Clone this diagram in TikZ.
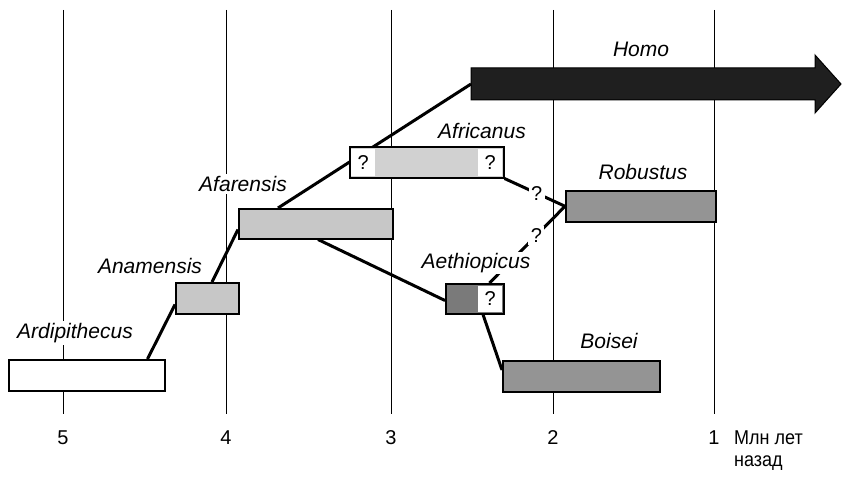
\documentclass[tikz,border=0pt]{standalone}
\usepackage{fontspec}
\setmainfont{Liberation Sans}
\newfontfamily\narrowfont[FakeStretch=0.9]{Liberation Sans}
\usetikzlibrary{calc}
\definecolor{lightfill}{gray}{0.78}
\definecolor{afrifill}{gray}{0.82}
\definecolor{darkfill}{gray}{0.58}
\definecolor{aethfill}{gray}{0.48}
\definecolor{homofill}{gray}{0.12}
\begin{document}
\begin{tikzpicture}[x=1pt,y=-1pt,
  gridline/.style={line width=1pt},
  conn/.style={line width=3pt},
  box/.style={draw, line width=1.5pt, anchor=north west, inner sep=0pt},
  lbl/.style={font=\fontsize{21}{24}\selectfont\itshape, fill=white, inner sep=2pt},
  qm/.style={font=\fontsize{20}{24}\selectfont, fill=white, inner sep=2.5pt},
  qpatch/.style={fill=white, inner sep=0pt, minimum width=24pt, minimum height=27pt, font=\fontsize{20}{24}\selectfont},
  axis/.style={font=\fontsize{20}{23}\selectfont, inner sep=0pt}]
\useasboundingbox (0,0) rectangle (842,476);

% time grid
\foreach \x/\n in {63/5,226/4,391/3,553/2,714/1} {
  \draw[gridline] (\x,10) -- (\x,414);
  \node[axis, anchor=base] (t\n) at (\x,444) {\n};
}
\node[axis, anchor=base west, font=\fontsize{20}{23}\selectfont\narrowfont] (unitA) at (734,444) {Млн лет};
\node[axis, anchor=base west, font=\fontsize{20}{23}\selectfont\narrowfont] (unitB) at (734,466) {назад};

% Homo arrow
\draw[line width=1pt, fill=homofill] (471,68) -- (815,68) -- (815,55) -- (841,84) -- (815,113) -- (815,100) -- (471,100) -- cycle;
\coordinate (homo) at (471,84);

% box geometry (for anchors)
\path
  (8,359)   node[box, minimum width=156pt, minimum height=31pt] (ardi) {}
  (175,282) node[box, minimum width=63pt,  minimum height=31pt] (anam) {}
  (238,208) node[box, minimum width=154pt, minimum height=30pt] (afar) {}
  (349,146) node[box, minimum width=154pt, minimum height=31pt] (afri) {}
  (565,190) node[box, minimum width=150pt, minimum height=31pt] (robu) {}
  (445,283) node[box, minimum width=58pt,  minimum height=30pt] (aeth) {}
  (502,360) node[box, minimum width=157pt, minimum height=31pt] (bois) {};

% connectors
\draw[conn] ($(ardi.north east)+(-18,0)$) -- ($(anam.south west)+(0,-10)$);
\draw[conn] ($(anam.north west)+(37,0)$) -- ($(afar.south west)+(0,-10)$);
\draw[conn] ($(afar.north west)+(40,0)$) -- (homo);
\draw[conn] ($(afar.south west)+(80,0)$) -- ($(aeth.south west)+(0,-14)$);
\draw[conn] ($(aeth.south west)+(38,0)$) -- ($(bois.north west)+(0,10)$);
\draw[conn] (afri.south east) -- node[qm, pos=0.53] (q1) {?} (robu.west);
\draw[conn] ($(aeth.north east)+(-15,0)$) -- node[qm, pos=0.62] (q2) {?} (robu.west);

% boxes drawn on top
\node[box, fill=white,     minimum width=156pt, minimum height=31pt] (ardiB) at (8,359) {};
\node[box, fill=lightfill, minimum width=63pt,  minimum height=31pt] (anamB) at (175,282) {};
\node[box, fill=lightfill, minimum width=154pt, minimum height=30pt] (afarB) at (238,208) {};
\node[box, fill=afrifill,  minimum width=154pt, minimum height=31pt] (afriB) at (349,146) {};
\node[box, fill=darkfill,  minimum width=150pt, minimum height=31pt] (robuB) at (565,190) {};
\node[box, fill=aethfill,  minimum width=58pt,  minimum height=30pt] (aethB) at (445,283) {};
\node[box, fill=darkfill,  minimum width=157pt, minimum height=31pt] (boisB) at (502,360) {};

% question patches
\node[qpatch, anchor=west] (qa) at ($(afri.west)+(2,0)$) {?};
\node[qpatch, anchor=east] (qb) at ($(afri.east)+(-2,0)$) {?};
\node[qpatch, anchor=east, minimum height=26pt] (qc) at ($(aeth.east)+(-2,0)$) {?};

% labels
\node[lbl] (Lardi) at (75,333) {Ardipithecus};
\node[lbl] (Lanam) at (150,266) {Anamensis};
\node[lbl] (Lafar) at (243,184) {Afarensis};
\node[lbl] (Lafri) at (482,131) {Africanus};
\node[lbl] (Lrobu) at (643,172) {Robustus};
\node[lbl, inner sep=1.5pt] (Laeth) at (476,263) {Aethiopicus};
\node[lbl] (Lbois) at (609,341) {Boisei};
\node[lbl] (Lhomo) at (641,49) {Homo};
\end{tikzpicture}
\end{document}
